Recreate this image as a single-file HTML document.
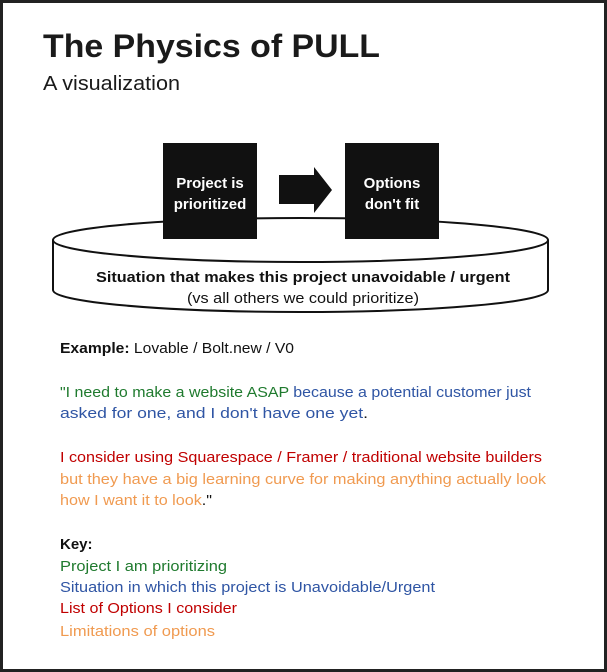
<!DOCTYPE html>
<html><head><meta charset="utf-8"><style>
html,body{margin:0;padding:0;background:#fff}
svg{display:block}
text{font-family:"Liberation Sans",sans-serif}
</style></head><body>
<svg width="607" height="672" viewBox="0 0 607 672" xmlns="http://www.w3.org/2000/svg">
<rect x="1.5" y="1.5" width="604" height="669" fill="#fff" stroke="#222" stroke-width="3"/>
<text x="43" y="57" font-size="32" font-weight="bold" fill="#1a1a1a" textLength="337" lengthAdjust="spacingAndGlyphs">The Physics of PULL</text>
<text x="43" y="90" font-size="20" fill="#1a1a1a" textLength="137" lengthAdjust="spacingAndGlyphs">A visualization</text>

<path d="M53 240 L53 290 A247.5 22 0 0 0 548 290 L548 240" fill="#fff" stroke="#111" stroke-width="2"/>
<ellipse cx="300.5" cy="240" rx="247.5" ry="22" fill="#fff" stroke="#111" stroke-width="2"/>

<rect x="163" y="143" width="94" height="96" fill="#111"/>
<rect x="345" y="143" width="94" height="96" fill="#111"/>
<polygon points="279,175 314,175 314,167 332,190 314,213 314,204 279,204" fill="#111"/>
<text x="210" y="188" font-size="15" font-weight="bold" fill="#fff" text-anchor="middle">Project is</text>
<text x="210" y="209" font-size="15" font-weight="bold" fill="#fff" text-anchor="middle">prioritized</text>
<text x="392" y="188" font-size="15" font-weight="bold" fill="#fff" text-anchor="middle">Options</text>
<text x="392" y="209" font-size="15" font-weight="bold" fill="#fff" text-anchor="middle">don't fit</text>

<text x="303" y="282" font-size="15" font-weight="bold" fill="#111" text-anchor="middle" textLength="414" lengthAdjust="spacingAndGlyphs">Situation that makes this project unavoidable / urgent</text>
<text x="303" y="303" font-size="15" fill="#111" text-anchor="middle" textLength="232" lengthAdjust="spacingAndGlyphs">(vs all others we could prioritize)</text>

<g font-size="15">
<text x="60" y="353" fill="#111" textLength="234" lengthAdjust="spacingAndGlyphs"><tspan font-weight="bold">Example:</tspan> Lovable / Bolt.new / V0</text>
<text x="60" y="397" textLength="471" lengthAdjust="spacingAndGlyphs"><tspan fill="#1f7a2e">"I need to make a website ASAP</tspan><tspan fill="#2f55a4"> because a potential customer just</tspan></text>
<text x="60" y="418" textLength="308" lengthAdjust="spacingAndGlyphs"><tspan fill="#2f55a4">asked for one, and I don't have one yet</tspan><tspan fill="#111">.</tspan></text>
<text x="60" y="462" fill="#c00000" textLength="482" lengthAdjust="spacingAndGlyphs">I consider using Squarespace / Framer / traditional website builders</text>
<text x="60" y="484" fill="#f09a50" textLength="486" lengthAdjust="spacingAndGlyphs">but they have a big learning curve for making anything actually look</text>
<text x="60" y="505" textLength="152" lengthAdjust="spacingAndGlyphs"><tspan fill="#f09a50">how I want it to look</tspan><tspan fill="#111">."</tspan></text>
<text x="60" y="549" fill="#111" font-weight="bold">Key:</text>
<text x="60" y="571" fill="#1f7a2e" textLength="167" lengthAdjust="spacingAndGlyphs">Project I am prioritizing</text>
<text x="60" y="592" fill="#2f55a4" textLength="375" lengthAdjust="spacingAndGlyphs">Situation in which this project is Unavoidable/Urgent</text>
<text x="60" y="613" fill="#c00000" textLength="177" lengthAdjust="spacingAndGlyphs">List of Options I consider</text>
<text x="60" y="636" fill="#f09a50" textLength="155" lengthAdjust="spacingAndGlyphs">Limitations of options</text>
</g>
</svg>
</body></html>
